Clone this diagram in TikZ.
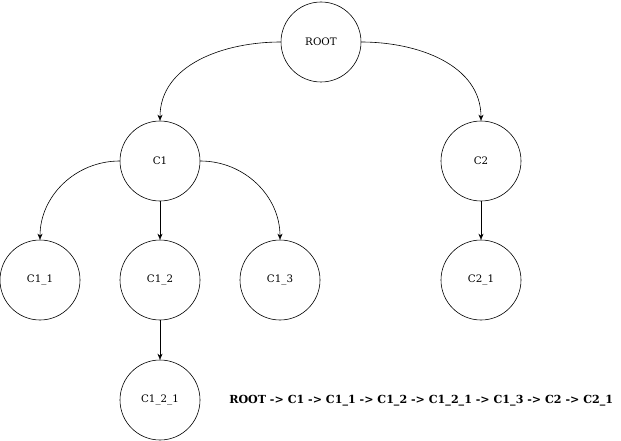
\documentclass[tikz,border=0pt]{standalone}
\usepackage{fontspec}
\setmainfont{DejaVu Serif}
\usetikzlibrary{arrows.meta}

\begin{document}
\begin{tikzpicture}[x=1pt,y=-1pt,->,>={Stealth[length=6pt,width=5pt]},semithick,
  tree node/.style={circle,draw,minimum size=80pt,inner sep=0pt,font=\fontsize{10.3}{12}\selectfont}]

  \useasboundingbox (0,0) rectangle (621,441);

  \node[tree node] (root) at (321,42) {ROOT};
  \node[tree node] (c1) at (160,161) {C1};
  \node[tree node] (c2) at (481,161) {C2};
  \node[tree node] (c11) at (40,280) {C1\_1};
  \node[tree node] (c12) at (160,280) {C1\_2};
  \node[tree node] (c13) at (280,280) {C1\_3};
  \node[tree node] (c21) at (481,280) {C2\_1};
  \node[tree node] (c121) at (160,400) {C1\_2\_1};

  \node[font=\bfseries\fontsize{11.1}{13}\selectfont,anchor=west,inner sep=0pt] (order) at (229,401)
    {ROOT -> C1 -> C1\_1 -> C1\_2 -> C1\_2\_1 -> C1\_3 -> C2 -> C2\_1};

  \path
    (root) edge[out=180,in=90] (c1.north)
           edge[out=0,in=90] (c2.north)
    (c1) edge[out=180,in=90] (c11.north)
         edge (c12)
         edge[out=0,in=90] (c13.north)
    (c2) edge (c21)
    (c12) edge (c121);
\end{tikzpicture}
\end{document}
